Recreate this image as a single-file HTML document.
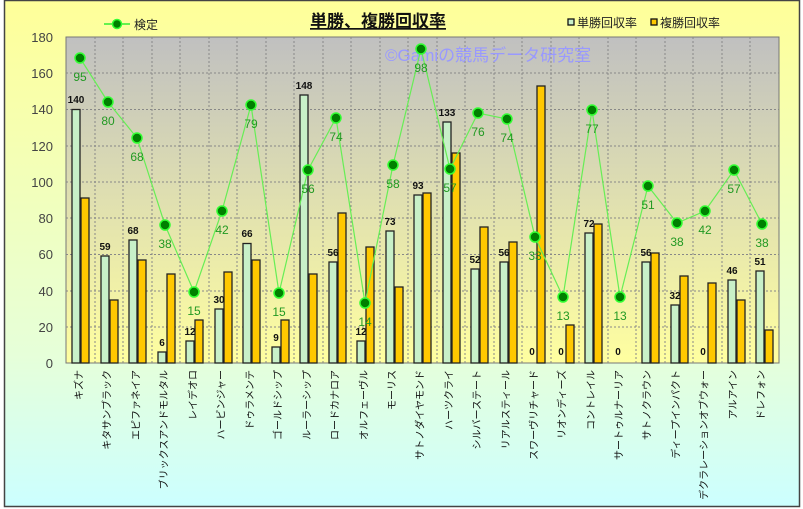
<!DOCTYPE html>
<html><head><meta charset="utf-8"><style>
html,body{margin:0;padding:0;width:803px;height:509px;overflow:hidden;background:#fff}
text{font-family:"Liberation Sans","Noto Sans CJK JP",sans-serif}
</style></head><body>
<svg width="803" height="509" xmlns="http://www.w3.org/2000/svg">
<defs>
<linearGradient id="bg" x1="0" y1="0" x2="0" y2="1"><stop offset="0" stop-color="#ffff99"/><stop offset="0.7" stop-color="#e6ffd9"/><stop offset="1" stop-color="#ccffff"/></linearGradient>
<linearGradient id="pl" x1="0" y1="0" x2="0" y2="1"><stop offset="0" stop-color="#c0c0c0"/><stop offset="1" stop-color="#ffffa0"/></linearGradient>
</defs>
<rect x="4.5" y="0.5" width="795" height="506" fill="url(#bg)" stroke="#444" stroke-width="1.5"/>
<rect x="66" y="37" width="713" height="326" fill="url(#pl)" stroke="#777"/>
<g stroke="#888" stroke-dasharray="2,2" stroke-width="1">
<line x1="66" x2="779" y1="73" y2="73"/><line x1="66" x2="779" y1="109.5" y2="109.5"/><line x1="66" x2="779" y1="146" y2="146"/><line x1="66" x2="779" y1="182" y2="182"/><line x1="66" x2="779" y1="218" y2="218"/><line x1="66" x2="779" y1="254.5" y2="254.5"/><line x1="66" x2="779" y1="291" y2="291"/><line x1="66" x2="779" y1="327" y2="327"/>
<line x1="95" x2="95" y1="37" y2="363"/><line x1="123" x2="123" y1="37" y2="363"/><line x1="152" x2="152" y1="37" y2="363"/><line x1="180" x2="180" y1="37" y2="363"/><line x1="209" x2="209" y1="37" y2="363"/><line x1="237" x2="237" y1="37" y2="363"/><line x1="266" x2="266" y1="37" y2="363"/><line x1="294" x2="294" y1="37" y2="363"/><line x1="323" x2="323" y1="37" y2="363"/><line x1="351" x2="351" y1="37" y2="363"/><line x1="380" x2="380" y1="37" y2="363"/><line x1="408" x2="408" y1="37" y2="363"/><line x1="437" x2="437" y1="37" y2="363"/><line x1="465" x2="465" y1="37" y2="363"/><line x1="494" x2="494" y1="37" y2="363"/><line x1="522" x2="522" y1="37" y2="363"/><line x1="551" x2="551" y1="37" y2="363"/><line x1="579" x2="579" y1="37" y2="363"/><line x1="608" x2="608" y1="37" y2="363"/><line x1="636" x2="636" y1="37" y2="363"/><line x1="665" x2="665" y1="37" y2="363"/><line x1="693" x2="693" y1="37" y2="363"/><line x1="722" x2="722" y1="37" y2="363"/><line x1="750" x2="750" y1="37" y2="363"/>
</g>
<g font-size="13" fill="#444" text-anchor="end">
<text x="53" y="42">180</text><text x="53" y="78">160</text><text x="53" y="114">140</text><text x="53" y="151">120</text><text x="53" y="187">100</text><text x="53" y="223">80</text><text x="53" y="259">60</text><text x="53" y="296">40</text><text x="53" y="332">20</text><text x="53" y="368">0</text>
</g>
<text x="385" y="61" font-size="17" fill="#9999ff">©Gamiの競馬データ研究室</text>
<g stroke="#222" stroke-width="1.3">
<g fill="#c8f0c8">
<rect x="72" y="109.5" width="8" height="253.5"/><rect x="101" y="256" width="8" height="107"/><rect x="129" y="240" width="8" height="123"/><rect x="158" y="352" width="8" height="11"/><rect x="186" y="341" width="8" height="22"/><rect x="215" y="309" width="8" height="54"/><rect x="243" y="243.5" width="8" height="119.5"/><rect x="272" y="347" width="8" height="16"/><rect x="300" y="95" width="8" height="268"/><rect x="329" y="262" width="8" height="101"/><rect x="357" y="341" width="8" height="22"/><rect x="386" y="231" width="8" height="132"/><rect x="414" y="195" width="8" height="168"/><rect x="443" y="122" width="8" height="241"/><rect x="471" y="269" width="8" height="94"/><rect x="500" y="262" width="8" height="101"/><rect x="585" y="233" width="8" height="130"/><rect x="642" y="262" width="8" height="101"/><rect x="671" y="305" width="8" height="58"/><rect x="728" y="280" width="8" height="83"/><rect x="756" y="271" width="8" height="92"/>
</g>
<g fill="#ffc800">
<rect x="81" y="198" width="8" height="165"/><rect x="110" y="300" width="8" height="63"/><rect x="138" y="260" width="8" height="103"/><rect x="167" y="274" width="8" height="89"/><rect x="195" y="320" width="8" height="43"/><rect x="224" y="272" width="8" height="91"/><rect x="252" y="260" width="8" height="103"/><rect x="281" y="320" width="8" height="43"/><rect x="309" y="274" width="8" height="89"/><rect x="338" y="213" width="8" height="150"/><rect x="366" y="247" width="8" height="116"/><rect x="395" y="287" width="8" height="76"/><rect x="423" y="193" width="8" height="170"/><rect x="452" y="153" width="8" height="210"/><rect x="480" y="227" width="8" height="136"/><rect x="509" y="242" width="8" height="121"/><rect x="537" y="86" width="8" height="277"/><rect x="566" y="325" width="8" height="38"/><rect x="594" y="224" width="8" height="139"/><rect x="651" y="253" width="8" height="110"/><rect x="680" y="276" width="8" height="87"/><rect x="708" y="283" width="8" height="80"/><rect x="737" y="300" width="8" height="63"/><rect x="765" y="330" width="8" height="33"/>
</g>
</g>
<g font-size="10" font-weight="bold" fill="#111" text-anchor="middle">
<text x="76" y="103">140</text><text x="105" y="250">59</text><text x="133" y="234">68</text><text x="162" y="346">6</text><text x="190" y="335">12</text><text x="219" y="303">30</text><text x="247" y="237">66</text><text x="276" y="341">9</text><text x="304" y="89">148</text><text x="333" y="256">56</text><text x="361" y="335">12</text><text x="390" y="225">73</text><text x="418" y="189">93</text><text x="447" y="116">133</text><text x="475" y="263">52</text><text x="504" y="256">56</text><text x="532" y="355">0</text><text x="561" y="355">0</text><text x="589" y="227">72</text><text x="618" y="355">0</text><text x="646" y="256">56</text><text x="675" y="299">32</text><text x="703" y="355">0</text><text x="732" y="274">46</text><text x="760" y="265">51</text>
</g>
<polyline fill="none" stroke="#66ee55" stroke-width="1.2" points="80,58 108,102 137,138 165,225 194,292 222,211 251,105 279,293 308,170 336,118 365,303 393,165 421,49 450,169 478,113 507,119 535,237 563,297 592,110 620,297 648,186 677,223 705,211 734,170 762,224"/>
<g fill="#008000" stroke="#33ff33" stroke-width="1.5">
<circle cx="80" cy="58" r="5"/><circle cx="108" cy="102" r="5"/><circle cx="137" cy="138" r="5"/><circle cx="165" cy="225" r="5"/><circle cx="194" cy="292" r="5"/><circle cx="222" cy="211" r="5"/><circle cx="251" cy="105" r="5"/><circle cx="279" cy="293" r="5"/><circle cx="308" cy="170" r="5"/><circle cx="336" cy="118" r="5"/><circle cx="365" cy="303" r="5"/><circle cx="393" cy="165" r="5"/><circle cx="421" cy="49" r="5"/><circle cx="450" cy="169" r="5"/><circle cx="478" cy="113" r="5"/><circle cx="507" cy="119" r="5"/><circle cx="535" cy="237" r="5"/><circle cx="563" cy="297" r="5"/><circle cx="592" cy="110" r="5"/><circle cx="620" cy="297" r="5"/><circle cx="648" cy="186" r="5"/><circle cx="677" cy="223" r="5"/><circle cx="705" cy="211" r="5"/><circle cx="734" cy="170" r="5"/><circle cx="762" cy="224" r="5"/>
</g>
<g font-size="12" fill="#229922" text-anchor="middle">
<text x="80" y="81">95</text><text x="108" y="125">80</text><text x="137" y="161">68</text><text x="165" y="248">38</text><text x="194" y="315">15</text><text x="222" y="234">42</text><text x="251" y="128">79</text><text x="279" y="316">15</text><text x="308" y="193">56</text><text x="336" y="141">74</text><text x="365" y="326">14</text><text x="393" y="188">58</text><text x="421" y="72">98</text><text x="450" y="192">57</text><text x="478" y="136">76</text><text x="507" y="142">74</text><text x="535" y="260">33</text><text x="563" y="320">13</text><text x="592" y="133">77</text><text x="620" y="320">13</text><text x="648" y="209">51</text><text x="677" y="246">38</text><text x="705" y="234">42</text><text x="734" y="193">57</text><text x="762" y="247">38</text>
</g>
<g font-size="10" fill="#111" text-anchor="end" dominant-baseline="central">
<text transform="translate(80,370) rotate(-90)">キズナ</text>
<text transform="translate(108,370) rotate(-90)">キタサンブラック</text>
<text transform="translate(137,370) rotate(-90)">エピファネイア</text>
<text transform="translate(165,370) rotate(-90)">ブリックスアンドモルタル</text>
<text transform="translate(194,370) rotate(-90)">レイデオロ</text>
<text transform="translate(222,370) rotate(-90)">ハービンジャー</text>
<text transform="translate(251,370) rotate(-90)">ドゥラメンテ</text>
<text transform="translate(279,370) rotate(-90)">ゴールドシップ</text>
<text transform="translate(308,370) rotate(-90)">ルーラーシップ</text>
<text transform="translate(336,370) rotate(-90)">ロードカナロア</text>
<text transform="translate(365,370) rotate(-90)">オルフェーヴル</text>
<text transform="translate(393,370) rotate(-90)">モーリス</text>
<text transform="translate(421,370) rotate(-90)">サトノダイヤモンド</text>
<text transform="translate(450,370) rotate(-90)">ハーツクライ</text>
<text transform="translate(478,370) rotate(-90)">シルバーステート</text>
<text transform="translate(507,370) rotate(-90)">リアルスティール</text>
<text transform="translate(535,370) rotate(-90)">スワーヴリチャード</text>
<text transform="translate(563,370) rotate(-90)">リオンディーズ</text>
<text transform="translate(592,370) rotate(-90)">コントレイル</text>
<text transform="translate(620,370) rotate(-90)">サートゥルナーリア</text>
<text transform="translate(648,370) rotate(-90)">サトノクラウン</text>
<text transform="translate(677,370) rotate(-90)">ディープインパクト</text>
<text transform="translate(705,370) rotate(-90)">デクラレーションオブウォー</text>
<text transform="translate(734,370) rotate(-90)">アルアイン</text>
<text transform="translate(762,370) rotate(-90)">ドレフォン</text>
</g>
<text x="378" y="27" font-size="17" font-weight="bold" fill="#111" text-anchor="middle" text-decoration="underline">単勝、複勝回収率</text>
<line x1="104" x2="130" y1="24" y2="24" stroke="#33ee33" stroke-width="1.5"/>
<circle cx="117" cy="24" r="4.5" fill="#008000" stroke="#33ff33" stroke-width="1.5"/>
<text x="134" y="29" font-size="12" fill="#222">検定</text>
<rect x="568" y="19" width="6" height="6" fill="#c8f0c8" stroke="#111" stroke-width="1.3"/>
<text x="577" y="27" font-size="12" fill="#222">単勝回収率</text>
<rect x="651" y="19" width="6" height="6" fill="#ffc800" stroke="#111" stroke-width="1.3"/>
<text x="660" y="27" font-size="12" fill="#222">複勝回収率</text>
</svg>
</body></html>
